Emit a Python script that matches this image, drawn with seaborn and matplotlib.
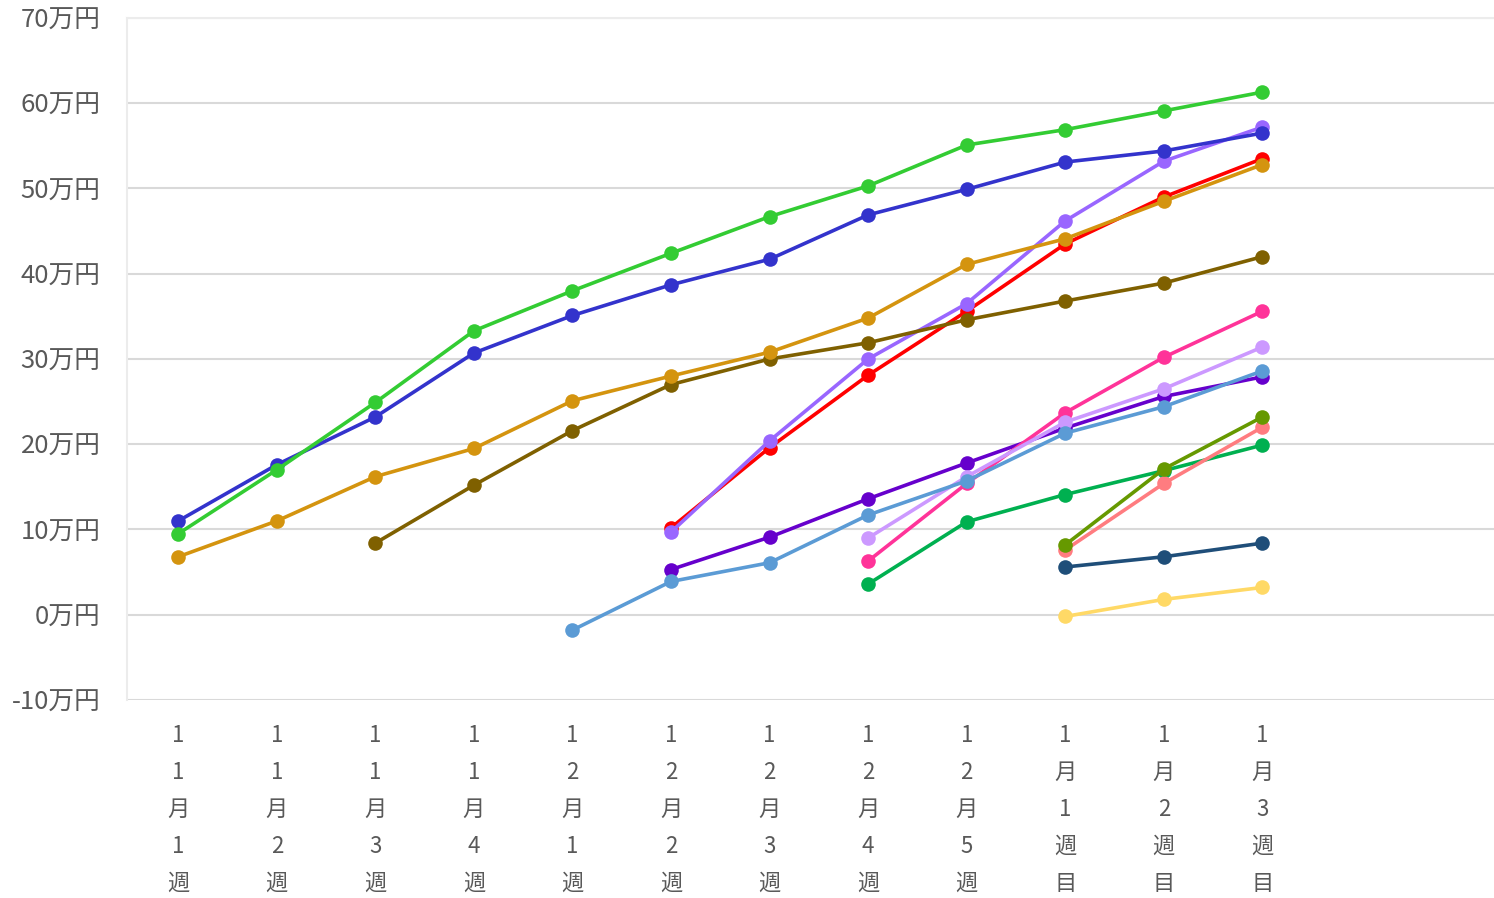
import numpy as np
import pandas as pd
import matplotlib
matplotlib.use("Agg")
import matplotlib.pyplot as plt
import seaborn as sns

weeks = ["11月1週", "11月2週", "11月3週", "11月4週", "12月1週", "12月2週",
         "12月3週", "12月4週", "12月5週", "1月1週目", "1月2週目", "1月3週目"]

N = np.nan
# values in 万円, drawn bottom-to-top order
s_red      = [N, N, N, N, N, 10.2, 19.6, 28.1, 35.6, 43.5, 49.0, 53.5]
s_purple   = [N, N, N, N, N, 9.7, 20.4, 30.0, 36.5, 46.2, 53.2, 57.2]
s_violet   = [N, N, N, N, N, 5.3, 9.1, 13.6, 17.8, 21.9, 25.6, 27.9]
s_pink     = [N, N, N, N, N, N, N, 6.3, 15.4, 23.7, 30.2, 35.6]
s_lavender = [N, N, N, N, N, N, N, 9.0, 16.2, 22.6, 26.5, 31.4]
s_emerald  = [N, N, N, N, N, N, N, 3.6, 10.9, 14.1, 16.9, 19.9]
s_ltblue   = [N, N, N, N, -1.8, 3.9, 6.1, 11.7, 15.7, 21.3, 24.4, 28.6]
s_salmon   = [N, N, N, N, N, N, N, N, N, 7.6, 15.4, 22.0]
s_olive    = [N, N, N, N, N, N, N, N, N, 8.2, 17.1, 23.2]
s_navy     = [N, N, N, N, N, N, N, N, N, 5.6, 6.8, 8.4]
s_yellow   = [N, N, N, N, N, N, N, N, N, -0.2, 1.8, 3.2]
s_brown    = [N, N, 8.4, 15.2, 21.6, 27.0, 30.0, 31.9, 34.6, 36.8, 38.9, 42.0]
s_orange   = [6.8, 11.0, 16.2, 19.5, 25.1, 28.0, 30.8, 34.8, 41.1, 44.1, 48.5, 52.8]
s_blue     = [11.0, 17.6, 23.2, 30.7, 35.1, 38.7, 41.7, 46.9, 49.9, 53.1, 54.4, 56.5]
s_green    = [9.5, 17.0, 24.9, 33.3, 38.0, 42.4, 46.7, 50.3, 55.1, 56.9, 59.1, 61.3]

series = [
    (s_red, "#ff0000"),
    (s_purple, "#9966ff"),
    (s_violet, "#6600cc"),
    (s_pink, "#ff3399"),
    (s_lavender, "#cc99ff"),
    (s_emerald, "#00b050"),
    (s_ltblue, "#5b9bd5"),
    (s_salmon, "#ff7c80"),
    (s_olive, "#669900"),
    (s_navy, "#1f4e79"),
    (s_yellow, "#ffd966"),
    (s_brown, "#7f6000"),
    (s_orange, "#d4940f"),
    (s_blue, "#3333cc"),
    (s_green, "#33cc33"),
]

yticks = list(range(-10, 71, 10))
ytick_labels = [f"{v}万円" for v in yticks]

sns.set_theme(style="white")
plt.rcParams['font.family'] = ['Noto Sans CJK JP', 'DejaVu Sans']

fig = plt.figure(figsize=(14.94, 8.98), dpi=100)
ax = fig.add_axes([0.085, 0.2205, 0.915, 0.7595])

pos = np.arange(len(weeks))
for vals, col in series:
    df = pd.DataFrame({"x": pos, "y": vals}).dropna()
    sns.lineplot(data=df, x="x", y="y", color=col, marker="o", markersize=10.5,
                 markeredgewidth=0, linewidth=2.6, ax=ax, zorder=3)

ax.set_ylim(-10, 70)
ax.set_xlim(-0.52, 13.35)
ax.set_yticks(yticks)
ax.set_yticklabels(ytick_labels, fontsize=18.5, color="#595959")
ax.set_xticks(pos)
ax.set_xticklabels(["\n".join(list(w)) for w in weeks], fontsize=16,
                   color="#595959", linespacing=1.78, va="top")
ax.tick_params(axis="both", length=0)
ax.tick_params(axis="x", pad=17)
ax.tick_params(axis="y", pad=19)
ax.set_xlabel("")
ax.set_ylabel("")
ax.grid(axis="y", color="#d9d9d9", linewidth=1.5)
ax.set_axisbelow(True)
for s in ["right", "bottom"]:
    ax.spines[s].set_visible(False)
for s in ["left", "top"]:
    ax.spines[s].set_color("#ececec")
    ax.spines[s].set_linewidth(1.5)

fig.savefig("out.png", dpi=100)
